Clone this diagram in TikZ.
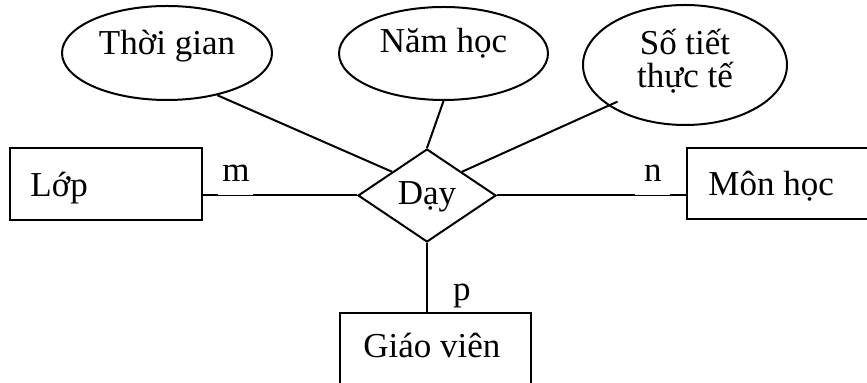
\documentclass[tikz,border=0pt]{standalone}
\usepackage{fontspec}
\setmainfont{Liberation Serif}
\usetikzlibrary{shapes.geometric,calc}
\begin{document}
\begin{tikzpicture}[x=0.5pt,y=-0.5pt,
  every node/.style={font=\fontsize{17.5}{15.5}\selectfont},
  ent/.style={draw,line width=1pt,inner sep=0,rectangle},
  attr/.style={draw,line width=1pt,ellipse,inner sep=0},
  rel/.style={draw,line width=1pt,diamond,inner sep=0},
  conn/.style={line width=1pt},
  txt/.style={inner sep=0,anchor=base west},
  card/.style={fill=white,inner sep=0,anchor=south west,minimum width=17.5pt,text height=12pt}]
\useasboundingbox (0,0) rectangle (867,383);

% entities
\node[ent,minimum width=96pt,minimum height=36pt] (lop) at (106,184) {};
\node[txt] (loptxt) at (30,197) {Lớp};
\node[ent,minimum width=97pt,minimum height=35.5pt] (mon) at (783.5,183.5) {};
\node[txt] (montxt) at (708,196) {Môn học};
\node[ent,minimum width=95.5pt,minimum height=43.5pt] (gv) at (435.5,356.5) {};
\node[txt] (gvtxt) at (363,358) {Giáo viên};

% relationship
\node[rel,minimum width=69pt,minimum height=46.5pt,text height=12.5pt,text depth=3pt] (day) at (427,195.5) {Dạy};

% attributes
\node[attr,minimum width=105pt,minimum height=47pt,text height=12pt,text depth=10pt] (tg) at (167,53) {Thời gian};
\node[attr,minimum width=104.5pt,minimum height=46.5pt,text height=11pt,text depth=11.5pt] (nh) at (443.5,53.5) {Năm học};
\node[attr,minimum width=102pt,minimum height=60pt,align=center,font=\fontsize{17.5}{16.5}\selectfont,text height=28pt,text depth=5pt] (st) at (685,65) {Số tiết\\thực tế};

% connectors
\draw[conn] (day.west) -- (day.west -| lop.east);
\draw[conn] (day.east) -- (day.east -| mon.west);
\draw[conn] (day.south) -- (day.south |- gv.north);
\draw[conn] (tg.-40) -- ($(day.west)!0.5!(day.north)$);
\draw[conn] (nh.south) -- (day.north);
\draw[conn,shorten >=-5pt] ($(day.north)!0.5!(day.east)$) -- (st.-152);

% cardinalities
\node[card,text depth=7pt] (m) at (218,0 |- day.west) {m};
\node[card,text depth=7pt] (n) at (635,0 |- day.east) {n};
\node[card,text depth=5.5pt] (p) at (444,0 |- gv.north) {p};
\end{tikzpicture}
\end{document}
